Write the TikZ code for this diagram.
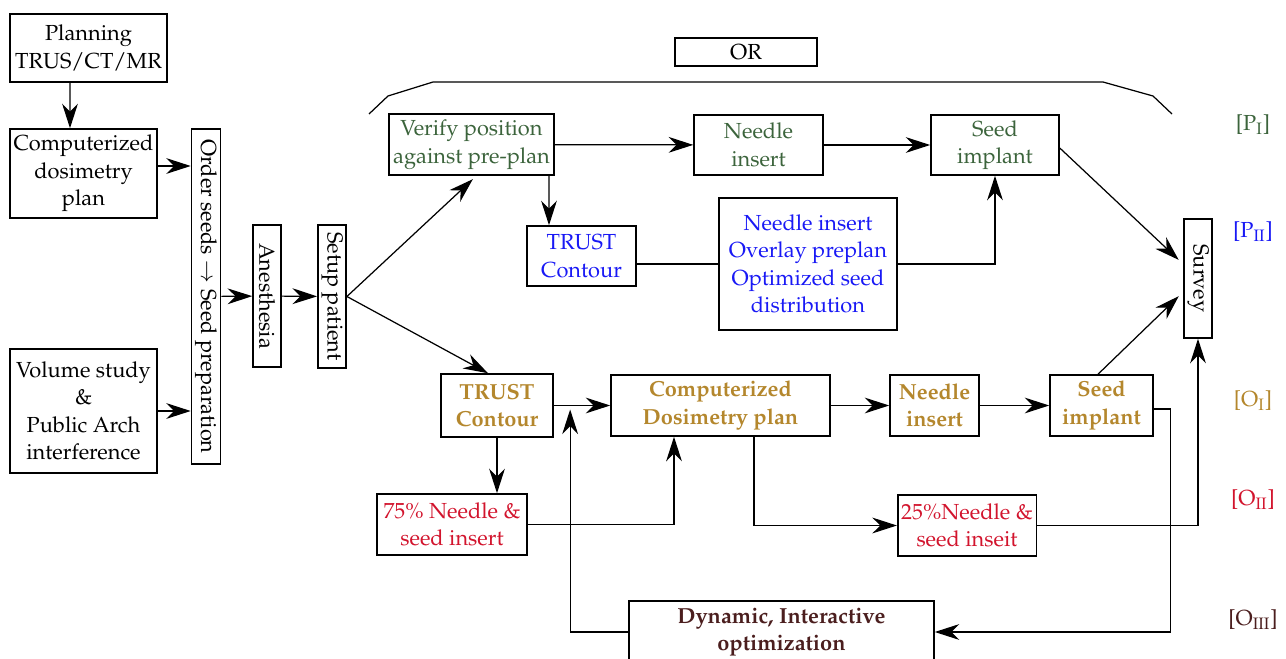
\documentclass[tikz,border=0pt]{standalone}
\usepackage[T1]{fontenc}
\usepackage{mathpazo}
\usepackage{xcolor}
\usepackage{tikz}
\usetikzlibrary{arrows.meta,calc}

\definecolor{pgreen}{RGB}{60,100,60}
\definecolor{pblue}{RGB}{25,25,245}
\definecolor{ogold}{RGB}{180,135,45}
\definecolor{ored}{RGB}{210,20,45}
\definecolor{odark}{RGB}{75,30,30}
\newcommand{\boxfont}{\fontsize{12.4}{15.6}\selectfont}

\begin{document}
\begin{tikzpicture}[x=0.02cm,y=-0.02cm,
  box/.style={draw,line width=0.9pt,align=center,inner sep=2pt,font=\boxfont},
  vbox/.style={box,rotate=-90,minimum height=0.56cm},
  arr/.style={-{Stealth[length=14pt,width=9pt]},line width=0.7pt},
  con/.style={line width=0.7pt}]
  \useasboundingbox (0,0) rectangle (1286,659);
  % preparation
  \node[box,minimum width=3.14cm,minimum height=1.36cm] (plan) at (88.5,48) {Planning\\TRUS/CT/MR};
  \node[box,minimum width=2.94cm,minimum height=1.78cm] (cdp) at (83.5,173.5) {Computerized\\dosimetry\\plan};
  \node[box,minimum width=2.94cm,minimum height=2.48cm] (vol) at (83.5,411) {Volume study\\\&\\Public Arch\\interference};
  \node[vbox,minimum width=6.7cm] (order) at (206,296.5) {Order seeds $\rightarrow$ Seed preparation};
  \node[vbox,minimum width=2.84cm] (anes) at (267,296) {Anesthesia};
  \node[vbox,minimum width=2.86cm] (setup) at (332,296.5) {Setup patient};
  % pre-planned
  \node[box,text=pgreen,minimum width=3.3cm,minimum height=1.22cm] (verify) at (471.5,144.5) {Verify position\\against pre-plan};
  \node[box,text=pgreen,minimum width=2.58cm,minimum height=1.2cm] (pneedle) at (758.5,145) {Needle\\insert};
  \node[box,text=pgreen,minimum width=2.56cm,minimum height=1.2cm] (pseed) at (995,145) {Seed\\implant};
  \node[box,text=pblue,minimum width=2.18cm,minimum height=1.2cm] (ptrust) at (581.5,256) {TRUST\\Contour};
  \node[box,text=pblue,minimum width=3.56cm,minimum height=2.64cm] (pover) at (808,264) {Needle insert\\Overlay preplan\\Optimized seed\\distribution};
  \node[vbox,minimum width=2.38cm] (survey) at (1198,278.5) {Survey};
  \node[box,minimum width=2.84cm,minimum height=0.56cm] (or) at (746,52) {OR};
  \draw[con] (369,114) -- (388,96) -- (433,82) -- (1103,82) -- (1153,96) -- (1172,114);
  % intraoperative
  \node[box,text=ogold,font=\boxfont\bfseries,minimum width=2.24cm,minimum height=1.26cm] (otrust) at (497,405.5) {TRUST\\Contour};
  \node[box,text=ogold,font=\boxfont\bfseries,minimum width=4.38cm,minimum height=1.22cm] (ocdp) at (720.5,405.5) {Computerized\\Dosimetry plan};
  \node[box,text=ogold,font=\boxfont\bfseries,minimum width=1.78cm,minimum height=1.22cm] (oneedle) at (934.5,405.5) {Needle\\insert};
  \node[box,text=ogold,font=\boxfont\bfseries,minimum width=2.06cm,minimum height=1.22cm] (oseed) at (1101.5,405.5) {Seed\\implant};
  \node[box,text=ored,minimum width=3cm,minimum height=1.22cm] (o75) at (452,524.5) {75\% Needle \&\\seed insert};
  \node[box,text=ored,minimum width=2.76cm,minimum height=1.22cm] (o25) at (967,525.5) {25\%Needle \&\\seed inseit};
  \node[box,text=odark,font=\boxfont\bfseries,minimum width=6.1cm,minimum height=1.24cm] (dyn) at (781.5,632) {Dynamic, Interactive\\optimization};
  % method labels
  \node[text=pgreen,font=\boxfont] (pI) at (1253,125) {[P\textsubscript{I}]};
  \node[text=pblue,font=\boxfont] (pII) at (1253,232) {[P\textsubscript{II}]};
  \node[text=ogold,font=\boxfont] (oI) at (1253,401) {[O\textsubscript{I}]};
  \node[text=ored,font=\boxfont] (oII) at (1253,500) {[O\textsubscript{II}]};
  \node[text=odark,font=\boxfont] (oIII) at (1253,620) {[O\textsubscript{III}]};
  % connectors
  \coordinate (a1) at ([yshift=0.15cm]cdp.east);
  \coordinate (fb) at ($(otrust.east)!0.29!(ocdp.west)$);
  \draw[arr] ([xshift=-0.37cm]plan.south) -- ([xshift=-0.27cm]cdp.north);
  \draw[arr] (a1) -- (a1 -| order.south);
  \draw[arr] (vol.east) -- (vol.east -| order.south);
  \draw[arr] (order) -- (anes);
  \draw[arr] (anes) -- (setup);
  \draw[arr,shorten >=0.1cm] (setup.north) -- ([xshift=0.1cm]verify.south);
  \draw[arr] (setup.north) -- ([xshift=-0.18cm]otrust.north);
  \draw[arr] (verify) -- (pneedle);
  \draw[arr] ([xshift=1.55cm]verify.south) -- ([xshift=-0.65cm]ptrust.north);
  \draw[arr] (pneedle) -- (pseed);
  \draw[con] (pover.west -| ptrust.east) -- (pover.west);
  \draw[arr] (pover.east) -| (pseed.south);
  \draw[arr,shorten >=0.12cm] ([yshift=-0.06cm]pseed.east) -- ([yshift=0.29cm]survey.south);
  \draw[arr,shorten >=0.12cm] ([xshift=-0.07cm]oseed.north) -- ([yshift=-0.27cm]survey.south);
  \draw[arr] (otrust) -- (ocdp);
  \draw[arr] (ocdp) -- (oneedle);
  \draw[arr] (oneedle) -- (oseed);
  \draw[arr] (otrust.south) -- (otrust.south |- o75.north);
  \draw[arr] (o75.east) -| ([xshift=-0.93cm]ocdp.south);
  \draw[arr] ([xshift=0.67cm]ocdp.south) |- (o25.west);
  \draw[arr] (o25.east) -| (survey.east);
  \draw[arr] ([yshift=-0.07cm]oseed.east) -- ++(17,0) |- (dyn.east);
  \draw[arr,shorten >=0.08cm] (dyn.west) -| (fb);
\end{tikzpicture}
\end{document}
